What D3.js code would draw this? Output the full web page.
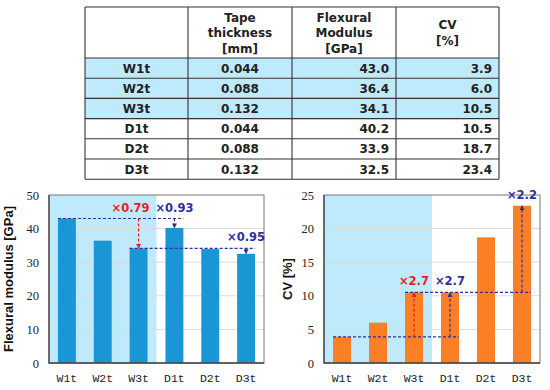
<!DOCTYPE html>
<html>
<head>
<meta charset="utf-8">
<script src="https://cdn.jsdelivr.net/npm/d3@7"></script>
<style>
  body { margin: 0; background: #fff; }
  svg { display: block; }
</style>
</head>
<body>
<div id="chart"></div>
<script>
  // data
  var samples = ["W1t", "W2t", "W3t", "D1t", "D2t", "D3t"];
  var thickness = [0.044, 0.088, 0.132, 0.044, 0.088, 0.132];
  var modulus = [43.0, 36.4, 34.1, 40.2, 33.9, 32.5];
  var cv = [3.9, 6.0, 10.5, 10.5, 18.7, 23.4];
  var headers = [["Tape", "thickness", "[mm]"], ["Flexural", "Modulus", "[GPa]"], ["CV", "[%]"]];
  var modTicks = [0, 10, 20, 30, 40, 50];
  var cvTicks = [0, 5, 10, 15, 20, 25];

  // comparisons: [from index, to index, colour]
  var modCompare = [[0, 2, "red"], [0, 3, "navy"], [2, 5, "navy"]];
  var cvCompare = [[0, 2, "red"], [0, 3, "navy"], [2, 5, "navy"]];
  // dashed reference lines: [value index, first sample, last sample]
  var modRefs = [[0, 0, 3], [2, 2, 5]];
  var cvRefs = [[0, 0, 3], [2, 2, 5]];

  var W = 550, H = 390;
  var RED = "#ee1c24", NAVY = "#2e2e9e";
  var SHADE = "#bfeafb";

  var svg = d3.select("#chart").append("svg")
    .attr("width", W)
    .attr("height", H);

  var defs = svg.append("defs");
  [["red", RED], ["navy", NAVY]].forEach(function (m) {
    defs.append("marker")
      .attr("id", "arr-" + m[0])
      .attr("viewBox", "0 0 10 10")
      .attr("refX", 9).attr("refY", 5)
      .attr("markerWidth", 5).attr("markerHeight", 5)
      .attr("markerUnits", "userSpaceOnUse")
      .attr("orient", "auto")
      .append("path")
      .attr("d", "M0,0L10,5L0,10z")
      .style("fill", m[1]);
  });

  // ---------- table ----------
  var colX = [85, 188, 292, 396, 499];
  var headTop = 7, headBot = 58, rowH = 20.2;
  var tbl = svg.append("g").attr("font-family", "'DejaVu Sans', Verdana, sans-serif")
    .attr("font-weight", "bold").attr("font-size", "12px");

  var rows = samples.map(function (s, i) {
    return [s, d3.format(".3f")(thickness[i]), d3.format(".1f")(modulus[i]), d3.format(".1f")(cv[i])];
  });

  tbl.selectAll(".rowbg")
    .data(rows)
    .enter().append("rect")
    .attr("x", colX[0])
    .attr("y", function (d, i) { return headBot + i * rowH; })
    .attr("width", colX[4] - colX[0])
    .attr("height", rowH)
    .style("fill", function (d) { return d[0][0] === "W" ? SHADE : "#fff"; });

  headers.forEach(function (lines, c) {
    var cx = (colX[c + 1] + colX[c + 2]) / 2;
    var mid = (headTop + headBot) / 2;
    var lh = 15.5;
    lines.forEach(function (t, k) {
      tbl.append("text")
        .attr("x", cx)
        .attr("y", mid + (k - (lines.length - 1) / 2) * lh + 4.5)
        .attr("text-anchor", "middle")
        .style("fill", "#222")
        .text(t);
    });
  });

  rows.forEach(function (r, i) {
    var ty = headBot + i * rowH + rowH / 2 + 4.5;
    r.forEach(function (t, c) {
      var right = c >= 2;
      tbl.append("text")
        .attr("x", right ? colX[c + 1] - 7 : (colX[c] + colX[c + 1]) / 2)
        .attr("y", ty)
        .attr("text-anchor", right ? "end" : "middle")
        .style("fill", "#222")
        .text(t);
    });
  });

  var hLines = [headTop, headBot].concat(rows.map(function (d, i) { return headBot + (i + 1) * rowH; }));
  tbl.selectAll(".hl").data(hLines).enter().append("line")
    .attr("x1", colX[0]).attr("x2", colX[4])
    .attr("y1", function (d) { return d; }).attr("y2", function (d) { return d; })
    .style("stroke", "#333").style("stroke-width", 1.1);
  tbl.selectAll(".vl").data(colX).enter().append("line")
    .attr("x1", function (d) { return d; }).attr("x2", function (d) { return d; })
    .attr("y1", headTop).attr("y2", hLines[hLines.length - 1])
    .style("stroke", "#333").style("stroke-width", 1.1);

  // ---------- bar charts ----------
  function barChart(opt) {
    var g = svg.append("g");
    var x = d3.scaleBand().domain(samples).range([opt.left, opt.right])
      .paddingInner(0.5).paddingOuter(0.25);
    var y = d3.scaleLinear().domain([0, opt.max]).range([opt.bottom, opt.top]);
    var bw = x.bandwidth();
    var cxOf = function (i) { return x(samples[i]) + bw / 2; };

    // shaded W group
    var shadeEnd = x("D1t") - x.step() * x.paddingInner() / 2;
    g.append("rect")
      .attr("x", opt.left).attr("y", opt.top)
      .attr("width", shadeEnd - opt.left).attr("height", opt.bottom - opt.top)
      .style("fill", SHADE);

    // grid
    g.selectAll(".grid").data(opt.ticks.slice(1, -1)).enter().append("line")
      .attr("x1", opt.left).attr("x2", opt.right)
      .attr("y1", function (d) { return y(d); }).attr("y2", function (d) { return y(d); })
      .style("stroke", "#dcdcdc").style("stroke-width", 1);

    // bars
    g.selectAll(".bar").data(opt.values).enter().append("rect")
      .attr("x", function (d, i) { return x(samples[i]); })
      .attr("y", function (d) { return y(d); })
      .attr("width", bw)
      .attr("height", function (d) { return y(0) - y(d); })
      .style("fill", opt.color);

    // frame
    g.append("rect")
      .attr("x", opt.left).attr("y", opt.top)
      .attr("width", opt.right - opt.left).attr("height", opt.bottom - opt.top)
      .style("fill", "none").style("stroke", "#777").style("stroke-width", 1);
    g.append("path")
      .attr("d", "M" + opt.left + "," + opt.top + "V" + opt.bottom + "H" + opt.right)
      .style("fill", "none").style("stroke", "#444").style("stroke-width", 1.3);

    // axes
    var ya = g.append("g").attr("transform", "translate(" + (opt.left - 10) + ",0)")
      .call(d3.axisLeft(y).tickValues(opt.ticks).tickSize(0).tickPadding(0))
      .attr("font-family", "'Liberation Serif', 'Times New Roman', serif")
      .attr("font-size", 12.5);
    ya.select(".domain").remove();
    ya.selectAll("text").attr("fill", "#222");

    var xa = g.append("g").attr("transform", "translate(0," + (opt.bottom + 11) + ")")
      .call(d3.axisBottom(x).tickSize(0).tickPadding(0))
      .attr("font-family", "'Liberation Mono', 'Courier New', monospace")
      .attr("font-size", 11.5);
    xa.select(".domain").remove();
    xa.selectAll("text").attr("fill", "#222");

    // axis title
    g.append("text")
      .attr("transform", "translate(" + opt.titleX + "," + ((opt.top + opt.bottom) / 2) + ") rotate(-90)")
      .attr("text-anchor", "middle")
      .attr("font-family", "'Liberation Sans', Arial, sans-serif")
      .attr("font-weight", "bold").attr("font-size", 13).attr("fill", "#111")
      .text(opt.title);

    // dashed reference lines
    opt.refs.forEach(function (r) {
      g.append("line")
        .attr("x1", x(samples[r[1]])).attr("x2", x(samples[r[2]]) + bw)
        .attr("y1", y(opt.values[r[0]])).attr("y2", y(opt.values[r[0]]))
        .style("stroke", NAVY).style("stroke-width", 1.2)
        .style("stroke-dasharray", "3,2");
    });

    // arrows + ratio labels
    opt.compare.forEach(function (c, k) {
      var a = opt.values[c[0]], b = opt.values[c[1]];
      var col = c[2] === "red" ? RED : NAVY;
      var cx = cxOf(c[1]);
      g.append("line")
        .attr("x1", cx).attr("x2", cx)
        .attr("y1", y(a)).attr("y2", y(b))
        .style("stroke", col).style("stroke-width", 1.2)
        .style("stroke-dasharray", "3,2")
        .attr("marker-end", "url(#arr-" + c[2] + ")");
      g.append("text")
        .attr("x", cx + (opt.labelShift[k] || 0))
        .attr("y", y(Math.max(a, b)) - 7)
        .attr("text-anchor", "middle")
        .attr("font-family", "'DejaVu Sans', Verdana, sans-serif")
        .attr("font-weight", "bold").attr("font-size", 11.5)
        .attr("fill", col)
        .text("\u00d7" + d3.format(opt.fmt)(b / a));
    });
  }

  barChart({
    values: modulus, max: 50, ticks: modTicks,
    left: 49, right: 264, top: 195, bottom: 363,
    color: "#1a96d6", title: "Flexural modulus [GPa]", titleX: 13,
    refs: modRefs, compare: modCompare, fmt: ".2f", labelShift: [-8]
  });

  barChart({
    values: cv, max: 25, ticks: cvTicks,
    left: 324, right: 540, top: 195, bottom: 363,
    color: "#fb7f24", title: "CV [%]", titleX: 292,
    refs: cvRefs, compare: cvCompare, fmt: ".1f", labelShift: []
  });
</script>
</body>
</html>
